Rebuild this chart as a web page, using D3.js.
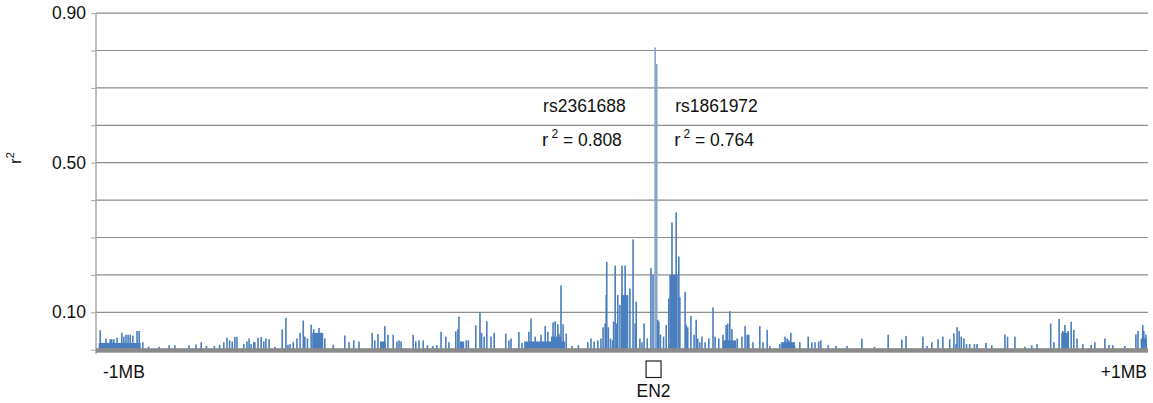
<!DOCTYPE html>
<html>
<head>
  <meta charset="utf-8">
  <title>EN2 r2</title>
  <script src="https://d3js.org/d3.v7.min.js"></script>
  <style>
    body { margin: 0; background: #fff; }
    svg text { font-family: "Liberation Sans", Arial, sans-serif; fill: #111; }
  </style>
</head>
<body>
<div id="chart"></div>
<script>
// SNP position (kb from window centre) and r2 with the index SNP
var leftFlank = [
  [-992,0.052],[-985,0.015],[-981,0.03],[-973,0.028],[-970,0.028],[-966,0.028],[-960,0.032],
  [-951,0.045],[-947,0.035],[-943,0.04],[-939,0.04],[-935,0.04],[-930,0.038],[-922,0.05],
  [-918,0.05],[-911,0.02],[-900,0.008],[-880,0.008],[-861,0.012],[-850,0.012],[-823,0.012],
  [-810,0.014],[-800,0.02],[-790,0.01],[-775,0.01],[-765,0.013],[-757,0.02],[-751,0.032],
  [-746,0.025],[-741,0.022],[-736,0.034],[-732,0.034],[-719,0.015],[-713,0.022],[-709,0.03],
  [-705,0.015],[-700,0.02],[-698,0.02],[-692,0.032],[-686,0.034],[-681,0.022],[-677,0.03],
  [-671,0.028],[-660,0.008],[-646,0.054],[-639,0.085],[-635,0.013],[-631,0.015],[-625,0.02],
  [-618,0.03],[-612,0.045],[-606,0.078],[-603,0.035],[-598,0.03],[-591,0.067],[-586,0.055],
  [-576,0.058],[-565,0.03],[-549,0.013],[-527,0.038],[-519,0.02],[-510,0.025],
  [-500,0.022],[-475,0.045],[-470,0.025],[-464,0.042],[-451,0.063],[-445,0.04],[-435,0.04],
  [-428,0.022],[-424,0.025],[-420,0.022],[-397,0.04],[-392,0.022],[-386,0.025],[-378,0.025],
  [-370,0.012],[-360,0.01],[-352,0.012],[-344,0.048],[-335,0.035],[-329,0.02],[-316,0.049],
  [-312,0.055],[-310,0.088],[-296,0.025],[-292,0.025],[-278,0.065],[-270,0.101],[-267,0.045],
  [-262,0.035],[-257,0.076],[-249,0.035],[-243,0.045],[-221,0.043],[-215,0.025],[-211,0.03],
  [-196,0.047],[-190,0.018],[-177,0.048],[-173,0.083],[-165,0.035],[-154,0.04],[-146,0.063],
  [-141,0.048],[-131,0.073],[-127,0.076],[-122,0.068],[-120,0.043],[-116,0.172],[-112,0.068],
  [-106,0.043],[-95,0.01],[-83,0.012],[-65,0.02],[-59,0.03],[-53,0.022],[-46,0.025],[-40,0.03]
];
var centre = [
  [-36,0.06],[-32,0.07],[-30,0.146],[-29,0.235],[-26,0.06],[-22,0.03],[-18,0.025],[-16,0.075],
  [-13,0.225],[-10,0.07],[-8,0.146],[-4,0.12],[0,0.225],[6,0.225],[15,0.164],[21,0.295],
  [25,0.07],[27,0.128],[34,0.03],[38,0.02],[42,0.07],[48,0.03],[55,0.218],[59,0.2],
  [63,0.808],[66,0.764],[68,0.08],[70,0.075],[73,0.04],[79,0.035],[84,0.066],[89,0.137],
  [95,0.34],[99,0.2],[103,0.367],[108,0.249],[110,0.14],[120,0.155],[122,0.066],[125,0.06],
  [131,0.09],[137,0.04],[141,0.08],[144,0.03],[148,0.02],[152,0.035],[158,0.02],[165,0.03],
  [173,0.113],[177,0.035],[184,0.03]
];
var rightFlank = [
  [192,0.04],[198,0.066],[201,0.07],[205,0.103],[209,0.055],[219,0.03],[228,0.035],[234,0.063],
  [238,0.04],[241,0.04],[249,0.02],[262,0.063],[268,0.02],[276,0.053],[281,0.01],[300,0.015],
  [304,0.02],[310,0.035],[314,0.03],[317,0.025],[321,0.045],[328,0.01],[338,0.02],[354,0.035],
  [361,0.02],[367,0.02],[374,0.022],[378,0.025],[392,0.012],[407,0.01],[428,0.01],[456,0.03],
  [480,0.008],[506,0.04],[532,0.027],[540,0.037],[572,0.035],[580,0.01],[589,0.02],[601,0.028],
  [610,0.035],[623,0.028],[631,0.044],[635,0.015],[637,0.06],[641,0.05],[645,0.035],[650,0.03],
  [655,0.015],[661,0.015],[670,0.015],[675,0.015],[692,0.018],[703,0.012],[728,0.041],[733,0.035],
  [747,0.035],[766,0.008],[779,0.012],[789,0.015],[815,0.07],[821,0.02],[831,0.082],[838,0.05],
  [842,0.066],[848,0.05],[854,0.075],[859,0.053],[865,0.03],[876,0.015],[892,0.013],[899,0.02],
  [918,0.03],[926,0.013],[933,0.012],[956,0.01],[977,0.041],[981,0.05],[990,0.066],[992,0.05],
  [996,0.04]
];
// runs of densely packed SNPs: [start kb, end kb, r2]
var denseRuns = [
  [-995,-915,0.018],[-589,-568,0.045],[-460,-449,0.022],[-308,-300,0.022],[-186,-108,0.022],
  [-135,-115,0.035],[-2,12,0.146],[90,106,0.2],[192,217,0.025],[304,329,0.02],[835,850,0.045],
  [986,998,0.03]
];
var yTicks = [0.1,0.2,0.3,0.4,0.5,0.6,0.7,0.8,0.9];
var yLabels = [0.10, 0.50, 0.90];
// label text starts at this kb position
var topSnps = [
  {name: "rs2361688", r2: "0.808", kb: -150},
  {name: "rs1861972", r2: "0.764", kb: 101}
];
var genePos = 60;

var W = 1153, H = 403;
var svg = d3.select("#chart").append("svg").attr("width", W).attr("height", H);

var x = d3.scaleLinear().domain([-1000, 1000]).range([96, 1148]);
var y = d3.scaleLinear().domain([0, 0.9]).range([349.7, 13.1]);

// gridlines
svg.append("g").selectAll("line").data(yTicks).enter().append("line")
  .attr("x1", 96).attr("x2", 1148)
  .attr("y1", d => y(d)).attr("y2", d => y(d))
  .attr("stroke", "#8e8e8e").attr("stroke-width", 1.2);

// left axis with outward ticks
var yAxis = d3.axisLeft(y).tickValues([0].concat(yTicks)).tickSize(5).tickFormat("");
var ga = svg.append("g").attr("transform", "translate(96,0)").call(yAxis);
ga.select(".domain").remove();
ga.selectAll("line").attr("stroke", "#a8a8a8");
svg.append("line").attr("x1", 96).attr("x2", 96).attr("y1", y(0.9)).attr("y2", 354)
  .attr("stroke", "#a8a8a8").attr("stroke-width", 1.5);

svg.append("g").selectAll("text").data(yLabels).enter().append("text")
  .attr("x", 86).attr("y", d => y(d) + 6)
  .attr("text-anchor", "end").style("font-size", "17.5px")
  .text(d => d.toFixed(2));

// r^2 axis title
var yt = svg.append("text").attr("transform", "translate(21,164) rotate(-90)")
  .style("font-size", "17px");
yt.append("tspan").text("r");
yt.append("tspan").attr("dy", -7).style("font-size", "11px").text("2");

// bars
var plot = svg.append("g");
plot.selectAll("rect.run").data(denseRuns).enter().append("rect")
  .attr("class", "run")
  .attr("x", d => x(d[0])).attr("width", d => x(d[1]) - x(d[0]))
  .attr("y", d => y(d[2])).attr("height", d => y(0) - y(d[2]))
  .attr("fill", "#4a7ebe");

var snps = leftFlank.concat(centre, rightFlank);
plot.selectAll("rect.snp").data(snps).enter().append("rect")
  .attr("class", "snp")
  .attr("x", d => x(d[0]) - 0.8).attr("width", 1.6)
  .attr("y", d => y(d[1])).attr("height", d => y(0) - y(d[1]))
  .attr("fill", d => d[1] > 0.7 ? "#86a4c8" : "#4a7ebe");

// grey baseline band
svg.append("rect").attr("x", 96).attr("width", 1052)
  .attr("y", y(0) - 1.5).attr("height", 4.5).attr("fill", "#8a8a8a");

// peak annotations
topSnps.forEach(function(s) {
  svg.append("text").attr("x", x(s.kb)).attr("y", 112)
    .style("font-size", "17.5px").text(s.name);
  var t = svg.append("text").attr("x", x(s.kb) - 1).attr("y", 146).style("font-size", "17.5px");
  t.append("tspan").style("font-size", "19px").text("r");
  t.append("tspan").attr("dy", -8).attr("dx", 3).style("font-size", "12px").text("2");
  t.append("tspan").attr("dy", 8).text(" = " + s.r2);
});

// x labels
svg.append("text").attr("x", 103).attr("y", 378).style("font-size", "17.5px").text("-1MB");
svg.append("text").attr("x", 1147).attr("y", 378).attr("text-anchor", "end")
  .style("font-size", "17.5px").text("+1MB");

// EN2 gene box
svg.append("rect").attr("x", x(genePos) - 7.5).attr("y", 361).attr("width", 15).attr("height", 16.5)
  .attr("fill", "none").attr("stroke", "#222").attr("stroke-width", 1.2);
svg.append("text").attr("x", x(genePos)).attr("y", 397).attr("text-anchor", "middle")
  .style("font-size", "17.5px").text("EN2");
</script>
</body>
</html>
